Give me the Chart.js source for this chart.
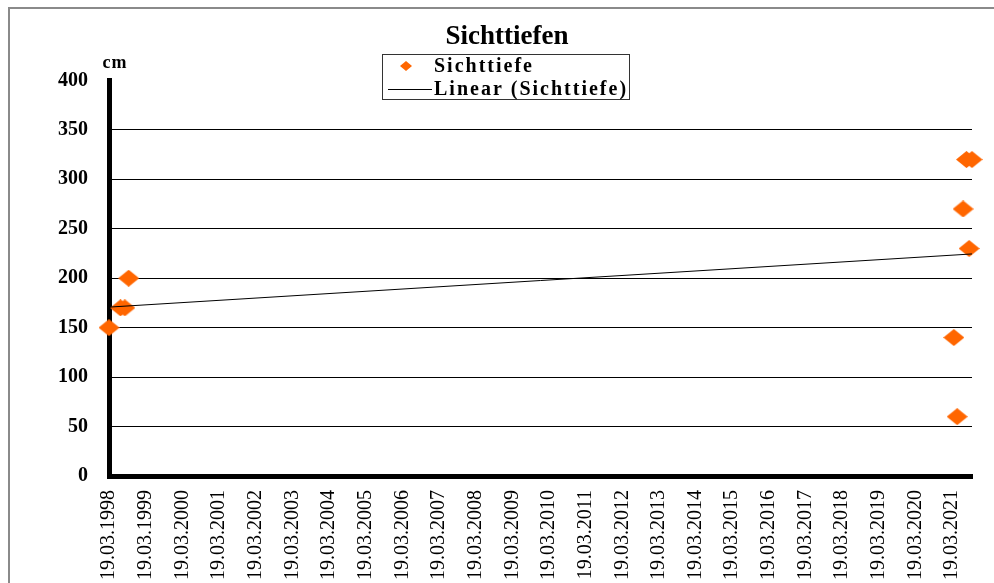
<!DOCTYPE html>
<html>
<head>
<meta charset="utf-8">
<script src="https://cdn.jsdelivr.net/npm/chart.js@4.4.1/dist/chart.umd.min.js"></script>
<style>
    html, body { margin: 0; padding: 0; background: #fff; }
</style>
</head>
<body>
<canvas id="myChart" width="994" height="583"></canvas>
<script>
'use strict';

let titleText = 'Sichttiefen';
let unitText = 'cm';
let seriesName = 'Sichttiefe';
let trendName = 'Linear (Sichttiefe)';

// Messungen (Datum, Sichttiefe in cm)
let measureDates = ['19.03.1998', '11.07.1998', '24.08.1998', '01.10.1998', '04.04.2021', '07.05.2021', '05.07.2021', '08.08.2021', '03.09.2021', '02.10.2021'];
let depthValues = [150, 170, 170, 200, 140, 60, 270, 320, 230, 320];

let xTickLabels = [
    '19.03.1998', '19.03.1999', '19.03.2000', '19.03.2001', '19.03.2002', '19.03.2003',
    '19.03.2004', '19.03.2005', '19.03.2006', '19.03.2007', '19.03.2008', '19.03.2009',
    '19.03.2010', '19.03.2011', '19.03.2012', '19.03.2013', '19.03.2014', '19.03.2015',
    '19.03.2016', '19.03.2017', '19.03.2018', '19.03.2019', '19.03.2020', '19.03.2021'
];
let yTickValues = [0, 50, 100, 150, 200, 250, 300, 350, 400];

const serif = '"Liberation Serif", "Times New Roman", serif';

function toDay(str) {
    let parts = str.split('.').map(Number);
    return Date.UTC(parts[2], parts[1] - 1, parts[0]) / 86400000;
}

let xDays = measureDates.map(toDay);
let xTickDays = xTickLabels.map(toDay);
let points = xDays.map((d, i) => ({ x: d, y: depthValues[i] }));

// lineare Trendlinie (kleinste Quadrate) wie in Excel
function linearTrend(xs, ys) {
    let n = xs.length;
    let mx = xs.reduce((a, b) => a + b, 0) / n;
    let my = ys.reduce((a, b) => a + b, 0) / n;
    let sxy = 0, sxx = 0;
    for (let i = 0; i < n; i++) {
        sxy += (xs[i] - mx) * (ys[i] - my);
        sxx += (xs[i] - mx) * (xs[i] - mx);
    }
    let slope = sxy / sxx;
    return { slope: slope, intercept: my - slope * mx };
}
let trend = linearTrend(xDays, depthValues);
let xMin = Math.min(...xDays);
let xMax = Math.max(...xDays);
let trendPoints = [xMin, xMax].map(d => ({ x: d, y: trend.intercept + trend.slope * d }));

function diamondImage(w, h, color) {
    let c = document.createElement('canvas');
    c.width = w;
    c.height = h;
    let g = c.getContext('2d');
    g.fillStyle = color;
    g.beginPath();
    g.moveTo(w / 2, 0);
    g.lineTo(w, h / 2);
    g.lineTo(w / 2, h);
    g.lineTo(0, h / 2);
    g.closePath();
    g.fill();
    return c;
}
let diamond = diamondImage(21, 17, '#FF6600');

let decor = {
    id: 'decor',
    beforeDraw(chart) {
        let ctx = chart.ctx;
        ctx.save();
        ctx.fillStyle = '#fff';
        ctx.fillRect(0, 0, chart.width, chart.height);
        ctx.strokeStyle = '#8a8a8a';
        ctx.lineWidth = 2;
        ctx.beginPath();
        ctx.moveTo(9, chart.height);
        ctx.lineTo(9, 8);
        ctx.lineTo(chart.width, 8);
        ctx.stroke();
        ctx.restore();
    },
    afterDraw(chart) {
        let ctx = chart.ctx;
        let area = chart.chartArea;
        let sets = chart.data.datasets;
        ctx.save();
        ctx.letterSpacing = '2px';
        // Legende
        ctx.strokeStyle = '#333';
        ctx.lineWidth = 1;
        ctx.strokeRect(382.5, 54.5, 247, 45);
        ctx.font = 'bold 20px ' + serif;
        ctx.fillStyle = '#000';
        ctx.textBaseline = 'middle';
        ctx.textAlign = 'left';
        let scatterSet = sets[1];
        let lineSet = sets[0];
        ctx.fillStyle = scatterSet.backgroundColor;
        ctx.beginPath();
        ctx.moveTo(406, 61);
        ctx.lineTo(412, 66);
        ctx.lineTo(406, 71);
        ctx.lineTo(400, 66);
        ctx.closePath();
        ctx.fill();
        ctx.fillStyle = '#000';
        ctx.fillText(scatterSet.label, 434, 67);
        ctx.strokeStyle = lineSet.borderColor;
        ctx.beginPath();
        ctx.moveTo(388, 89.5);
        ctx.lineTo(432, 89.5);
        ctx.stroke();
        ctx.fillText(lineSet.label, 434, 90);
        // Einheit
        ctx.letterSpacing = '1px';
        ctx.font = 'bold 18px ' + serif;
        ctx.textAlign = 'center';
        ctx.fillText(unitText, area.left + 6, 63);
        ctx.restore();
    }
};

let ctx = document.getElementById('myChart').getContext('2d');
new Chart(ctx, {
    type: 'scatter',
    data: {
        datasets: [{
            label: trendName,
            type: 'line',
            data: trendPoints,
            borderColor: '#000',
            borderWidth: 1,
            pointRadius: 0,
            fill: false,
            order: 0
        },
        {
            label: seriesName,
            data: points,
            pointStyle: diamond,
            pointRadius: 10,
            backgroundColor: '#FF6600',
            borderColor: '#FF6600',
            clip: false,
            order: 1
        }]
    },
    options: {
        responsive: false,
        animation: false,
        devicePixelRatio: 1,
        layout: {
            padding: { top: 0, right: 22, bottom: 0, left: 42 }
        },
        plugins: {
            legend: { display: false },
            tooltip: { enabled: false },
            title: {
                display: true,
                text: titleText,
                color: '#000',
                font: { family: serif, size: 27, weight: 'bold', lineHeight: 1.2 },
                padding: { top: 21, bottom: 27 }
            }
        },
        scales: {
            x: {
                type: 'linear',
                min: xMin,
                max: xMax,
                afterBuildTicks: (axis) => {
                    axis.ticks = xTickDays.map(v => ({ value: v }));
                },
                afterFit: (scale) => {
                    scale.height = 107;
                },
                ticks: {
                    autoSkip: false,
                    minRotation: 90,
                    maxRotation: 90,
                    padding: 14,
                    color: '#000',
                    font: { family: serif, size: 20 },
                    callback: (value, index) => xTickLabels[index]
                },
                grid: { drawOnChartArea: false, drawTicks: false },
                border: { display: true, color: '#000', width: 5 }
            },
            y: {
                min: 0,
                max: 400,
                afterBuildTicks: (axis) => {
                    axis.ticks = yTickValues.map(v => ({ value: v }));
                },
                afterFit: (scale) => {
                    scale.width = 67;
                },
                ticks: {
                    padding: 21,
                    color: '#000',
                    font: { family: serif, size: 20, weight: 'bold' }
                },
                grid: {
                    drawTicks: false,
                    lineWidth: 1,
                    color: (c) => (c.tick && (c.tick.value === 400 || c.tick.value === 0)) ? 'rgba(0,0,0,0)' : '#000'
                },
                border: { display: true, color: '#000', width: 5 }
            }
        }
    },
    plugins: [decor]
});
</script>
</body>
</html>
